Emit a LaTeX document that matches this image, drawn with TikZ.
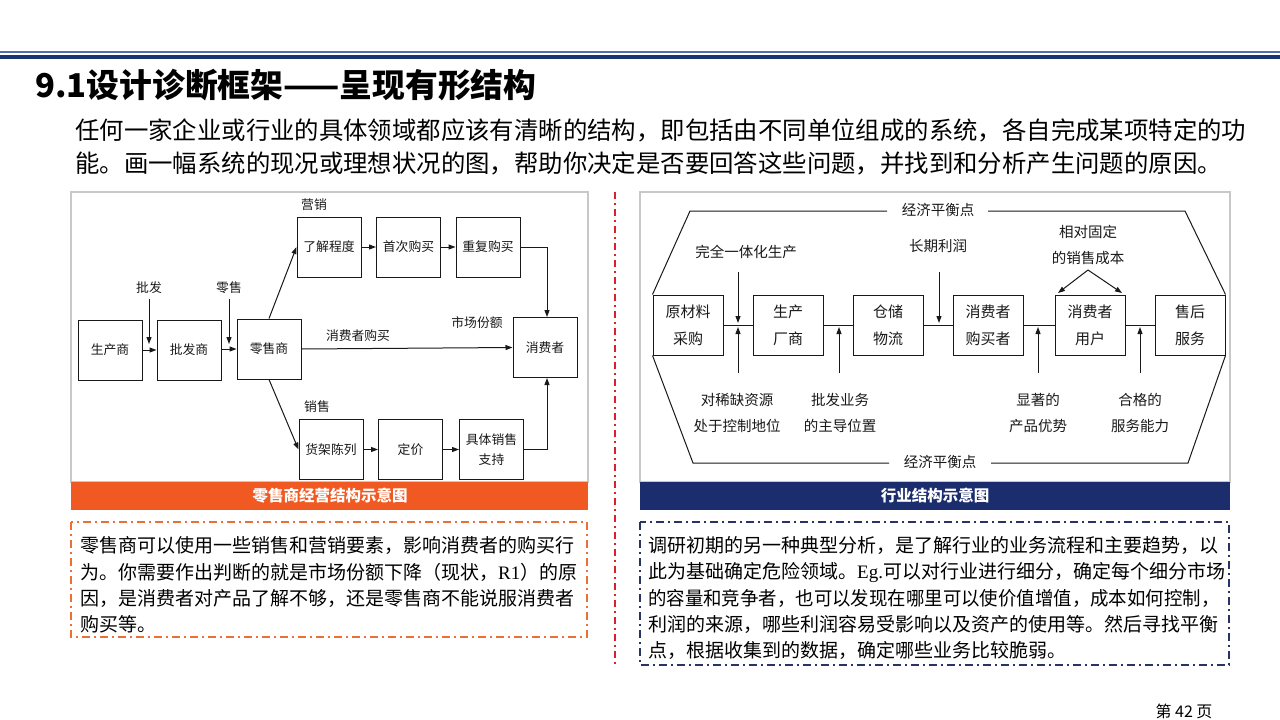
\documentclass[tikz,border=0pt]{standalone}
\usepackage{fontspec}
\setmainfont{Noto Sans CJK SC}
\newfontfamily\tnr{Liberation Serif}
\usetikzlibrary{arrows.meta}
\definecolor{hdrthin}{RGB}{80,110,175}
\definecolor{hdrthick}{RGB}{25,50,112}
\definecolor{barorange}{RGB}{240,90,34}
\definecolor{barnavy}{RGB}{28,45,110}
\definecolor{sepred}{RGB}{218,32,44}
\definecolor{boxorange}{RGB}{235,112,52}
\definecolor{boxnavy}{RGB}{40,52,100}
\definecolor{framegray}{RGB}{200,200,200}
\definecolor{ink}{RGB}{25,25,25}
\begin{document}
\begin{tikzpicture}[x=1pt,y=-1pt,
  arr/.style={-{Triangle[length=7pt,width=5pt]},line width=1pt,draw=ink},
  ln/.style={line width=1pt,draw=ink},
  lbox/.style={draw=ink,line width=1pt,minimum width=64pt,minimum height=60pt,inner sep=0pt,align=center,text=ink,font=\fontsize{12.8}{20}\selectfont},
  ltxt/.style={inner sep=0pt,align=center,text=ink,font=\fontsize{12.8}{20}\selectfont},
  rbox/.style={draw=ink,line width=1pt,minimum width=70pt,minimum height=60pt,inner sep=0pt,align=center,text=ink,font=\fontsize{15}{27}\selectfont},
  rtxt/.style={inner sep=0pt,align=center,text=ink,font=\fontsize{14.5}{26}\selectfont},
  bodyline/.style={anchor=west,inner sep=0pt,text=black,font=\fontsize{19}{24}\selectfont},
  subline/.style={anchor=west,inner sep=0pt,text=black,font=\fontsize{24.4}{30}\selectfont},
  barcap/.style={inner sep=0pt,text=white,font=\fontsize{15.5}{18}\selectfont\bfseries},
  dashdot/.style={line width=1.6pt,dash pattern=on 8pt off 4pt on 2pt off 4pt}
]
\useasboundingbox (0,0) rectangle (1280,720);
\fill[white] (0,0) rectangle (1280,720);

% header lines
\draw[hdrthin,line width=1.5pt] (0,52) -- (1280,52);
\draw[hdrthick,line width=4pt] (0,57) -- (1280,57);

% title and subtitle
\node[anchor=west,inner sep=0pt,text=black,font=\fontsize{32.8}{36}\selectfont\bfseries] (title) at (35,85) {9.1设计诊断框架——呈现有形结构};
\node[subline] (sub1) at (75,130) {任何一家企业或行业的具体领域都应该有清晰的结构，即包括由不同单位组成的系统，各自完成某项特定的功};
\node[subline] (sub2) at (75,163) {能。画一幅系统的现况或理想状况的图，帮助你决定是否要回答这些问题，并找到和分析产生问题的原因。};

% frames and bars
\draw[framegray,line width=1.5pt] (71,192) rectangle (588,482);
\draw[framegray,line width=1.5pt] (640,192) rectangle (1230,482);
\fill[barorange] (71,482) rectangle (588,510);
\fill[barnavy] (640,482) rectangle (1230,510);
\node[barcap] (cap1) at (330,496) {零售商经营结构示意图};
\node[barcap] (cap2) at (935,496) {行业结构示意图};

% separator
\draw[sepred,line width=2pt,dash pattern=on 7pt off 4pt on 2pt off 4pt] (615,192) -- (615,665);

% ---------- left diagram ----------
\node[lbox] (scs) at (110,350) {生产商};
\node[lbox] (pfs) at (189,350) {批发商};
\node[lbox] (lss) at (269,349) {零售商};
\node[lbox] (ljcd) at (329,247) {了解程度};
\node[lbox] (scgm) at (408.5,247) {首次购买};
\node[lbox] (cfgm) at (488,247) {重复购买};
\node[lbox] (xfz) at (545,347.5) {消费者};
\node[lbox] (hjcl) at (331,449.5) {货架陈列};
\node[lbox] (dj) at (410.5,449.5) {定价};
\node[lbox] (jtxs) at (491.5,449.5) {具体销售\\支持};

\node[ltxt] (lpf) at (149,288) {批发};
\node[ltxt] (lls) at (229,288) {零售};
\node[ltxt] (lyx) at (314,205) {营销};
\node[ltxt] (lscfe) at (477,323) {市场份额};
\node[ltxt] (lxfgm) at (358,336) {消费者购买};
\node[ltxt] (lxs) at (317,407) {销售};

\coordinate (pfA) at (149,299);
\coordinate (pfB) at (149,344);
\coordinate (lsA) at (229,299);
\coordinate (lsB) at (229,344);

\draw[arr] (scs) -- (pfs);
\draw[arr] (pfs.east |- lss.west) -- (lss.west);
\draw[arr] (pfA) -- (pfB);
\draw[arr] (lsA) -- (lsB);
\draw[arr] (lss.north) -- (ljcd.west);
\draw[arr] (lss.south) -- (hjcl.west);
\draw[arr] (ljcd) -- (scgm);
\draw[arr] (scgm) -- (cfgm);
\draw[arr] (hjcl) -- (dj);
\draw[arr] (dj) -- (jtxs);
\draw[arr] (lss.east) -- (xfz.west);
\draw[arr] (cfgm.east) -| ([xshift=2pt]xfz.north);
\draw[arr] (jtxs.east) -| ([xshift=2pt]xfz.south);

% ---------- right diagram ----------
\node[rbox] (r1) at (688,325) {原材料\\采购};
\node[rbox] (r2) at (788,325) {生产\\厂商};
\node[rbox] (r3) at (888,325) {仓储\\物流};
\node[rbox] (r4) at (988,325) {消费者\\购买者};
\node[rbox] (r5) at (1090,325) {消费者\\用户};
\node[rbox] (r6) at (1190,325) {售后\\服务};

\draw[ln] (r1) -- (r2);
\draw[ln] (r2) -- (r3);
\draw[ln] (r3) -- (r4);
\draw[ln] (r4) -- (r5);
\draw[ln] (r5) -- (r6);

\node[rtxt] (econT) at (938,210) {经济平衡点};
\node[rtxt] (econB) at (940,462) {经济平衡点};
\coordinate (tl1) at (690,211);
\coordinate (tl2) at (887,211);
\coordinate (tr2) at (988,211);
\coordinate (tr1) at (1185,211);
\coordinate (bl1) at (693,463);
\coordinate (bl2) at (889,463);
\coordinate (br2) at (991,463);
\coordinate (br1) at (1188,463);
\draw[ln] (r1.north west) -- (tl1) -- (tl2);
\draw[ln] (tr2) -- (tr1) -- (r6.north east);
\draw[ln] (r1.south west) -- (bl1) -- (bl2);
\draw[ln] (br2) -- (br1) -- (r6.south east);

\node[rtxt] (t1) at (746,252) {完全一体化生产};
\node[rtxt] (t2) at (938,246) {长期利润};
\node[rtxt] (t3) at (1088,245) {相对固定\\的销售成本};
\node[rtxt] (b1) at (737,413) {对稀缺资源\\处于控制地位};
\node[rtxt] (b2) at (840,413) {批发业务\\的主导位置};
\node[rtxt] (b3) at (1038,413) {显著的\\产品优势};
\node[rtxt] (b4) at (1140,413) {合格的\\服务能力};

\coordinate (a1s) at (738,272);
\coordinate (a1e) at (738,323);
\coordinate (a2s) at (738,373);
\coordinate (a2e) at (738,327);
\coordinate (a3s) at (839,373);
\coordinate (a3e) at (839,327);
\coordinate (a4s) at (939,272);
\coordinate (a4e) at (939,323);
\coordinate (a5s) at (1038,373);
\coordinate (a5e) at (1038,327);
\coordinate (a6s) at (1140,373);
\coordinate (a6e) at (1140,327);
\coordinate (c0) at (1088,270);
\coordinate (c1) at (1058,293);
\coordinate (c2) at (1122,293);
\draw[arr] (a1s) -- (a1e);
\draw[arr] (a2s) -- (a2e);
\draw[arr] (a3s) -- (a3e);
\draw[arr] (a4s) -- (a4e);
\draw[arr] (a5s) -- (a5e);
\draw[arr] (a6s) -- (a6e);
\draw[arr] (c0) -- (c1);
\draw[arr] (c0) -- (c2);

% ---------- text boxes ----------
\draw[boxorange,dashdot] (71,522) rectangle (587,637);
\node[bodyline] (lt1) at (80,545) {零售商可以使用一些销售和营销要素，影响消费者的购买行};
\node[bodyline] (lt2) at (80,572) {为。你需要作出判断的就是市场份额下降（现状，{\tnr R1}）的原};
\node[bodyline] (lt3) at (80,598) {因，是消费者对产品了解不够，还是零售商不能说服消费者};
\node[bodyline] (lt4) at (80,624) {购买等。};

\draw[boxnavy,dashdot] (640,522) rectangle (1229,665);
\node[bodyline] (rt1) at (648,545) {调研初期的另一种典型分析，是了解行业的业务流程和主要趋势，以};
\node[bodyline] (rt2) at (648,572) {此为基础确定危险领域。{\tnr Eg.}可以对行业进行细分，确定每个细分市场};
\node[bodyline] (rt3) at (648,598) {\scalebox{0.97}[1]{的容量和竞争者，也可以发现在哪里可以使价值增值，成本如何控制，}};
\node[bodyline] (rt4) at (648,624) {利润的来源，哪些利润容易受影响以及资产的使用等。然后寻找平衡};
\node[bodyline] (rt5) at (648,650) {点，根据收集到的数据，确定哪些业务比较脆弱。};

% page number
\node[inner sep=0pt,text=black,font=\fontsize{16}{18}\selectfont] (pg) at (1184,711) {第 42 页};
\end{tikzpicture}
\end{document}
